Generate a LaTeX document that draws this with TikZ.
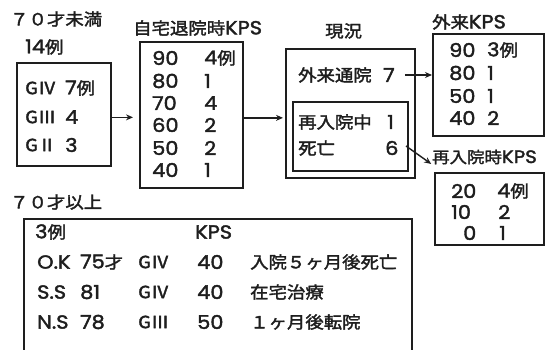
\documentclass[tikz,border=0pt]{standalone}
\usepackage{fontspec}
\setmainfont{Poppins}[FakeStretch=1.1,FakeBold=2]
\newfontfamily\jp{Noto Sans CJK JP}[FakeStretch=1.1,FakeBold=2,Scale=0.88]
\usetikzlibrary{arrows.meta,calc}
\definecolor{ink}{HTML}{1E1E1E}
\tikzset{
  txt/.style={anchor=west, inner sep=0pt, text=ink, font=\fontsize{19}{22}\selectfont},
  box/.style={draw=ink, line width=1.7pt, anchor=north west, inner sep=0pt},
  arr/.style={draw=ink, line width=1.4pt, -{Stealth[length=7pt,width=6pt]}}
}
\begin{document}
\begin{tikzpicture}[x=1pt,y=-1pt]
\useasboundingbox (0,0) rectangle (546,349);
% boxes
\node[box, minimum width=94pt, minimum height=103pt] (gbox) at (16,62) {};
\node[box, minimum width=103pt, minimum height=146pt] (kbox) at (139,41) {};
\node[box, minimum width=129pt, minimum height=129pt] (nbox) at (285,48) {};
\node[box, minimum width=115pt, minimum height=69pt] (ibox) at (292,101) {};
\node[box, minimum width=111pt, minimum height=102pt] (obox) at (432,33) {};
\node[box, minimum width=109pt, minimum height=72pt] (rbox) at (434,172) {};
\node[box, minimum width=388pt, minimum height=132pt] (bbox) at (23,218) {};
% titles
\node[txt] (t1) at (10,19) {\jp ７０才未満};
\node[txt] (t2) at (25,47) {14{\jp 例}};
\node[txt] (t3) at (133,28) {{\jp 自宅退院時}KPS};
\node[txt] (t4) at (325,31) {\jp 現況};
\node[txt] (t5) at (432,22) {{\jp 外来}KPS};
\node[txt, font=\fontsize{18}{22}\selectfont] (rl) at (432,157) {{\jp 再入院時}KPS};
\node[txt] (t6) at (10,202) {\jp ７０才以上};
% left box
\node[txt] (g1) at (25,88) {\jp GⅣ};
\node[txt] (g1n) at (65,88) {7{\jp 例}};
\node[txt] (g2) at (25,117) {\jp GⅢ};
\node[txt] (g2n) at (65,117) {4};
\node[txt] (g3) at (25,145) {\jp GⅡ};
\node[txt] (g3n) at (65,145) {3};
% KPS box
\node[txt] (k1) at (152,58) {90};  \node[txt] (k1n) at (204,58) {4{\jp 例}};
\node[txt] (k2) at (152,81) {80};  \node[txt] (k2n) at (204,81) {1};
\node[txt] (k3) at (152,103) {70}; \node[txt] (k3n) at (204,103) {4};
\node[txt] (k4) at (152,125) {60}; \node[txt] (k4n) at (204,125) {2};
\node[txt] (k5) at (152,148) {50}; \node[txt] (k5n) at (204,148) {2};
\node[txt] (k6) at (152,170) {40}; \node[txt] (k6n) at (204,170) {1};
% current status
\node[txt] (n1) at (298,75) {\jp 外来通院};
\node[txt] (n1n) at (383,75) {7};
\node[txt] (n2) at (298,122) {\jp 再入院中};
\node[txt] (n2n) at (387,122) {1};
\node[txt] (n3) at (298,148) {\jp 死亡};
\node[txt] (n3n) at (385,148) {6};
% outpatient KPS
\node[txt] (o1) at (449,50) {90}; \node[txt] (o1n) at (487,50) {3{\jp 例}};
\node[txt] (o2) at (449,73) {80}; \node[txt] (o2n) at (487,73) {1};
\node[txt] (o3) at (449,96) {50}; \node[txt] (o3n) at (487,96) {1};
\node[txt] (o4) at (449,118) {40}; \node[txt] (o4n) at (487,118) {2};
% readmission KPS
\node[txt] (r1) at (451,191) {20}; \node[txt] (r1n) at (497,191) {4{\jp 例}};
\node[txt] (r2) at (451,212) {10}; \node[txt] (r2n) at (498,212) {2};
\node[txt] (r3) at (463,233) {0};  \node[txt] (r3n) at (499,233) {1};
% bottom table
\node[txt] (b0) at (35,232) {3{\jp 例}};
\node[txt] (b0k) at (195,232) {KPS};
\node[txt] (a1) at (37,262) {O.K}; \node[txt] (a2) at (80,262) {75{\jp 才}}; \node[txt] (a3) at (138,262) {\jp GⅣ}; \node[txt] (a4) at (197,262) {40}; \node[txt] (a5) at (250,262) {\jp 入院５ヶ月後死亡};
\node[txt] (c1) at (37,292) {S.S}; \node[txt] (c2) at (80,292) {81}; \node[txt] (c3) at (138,292) {\jp GⅣ}; \node[txt] (c4) at (197,292) {40}; \node[txt] (c5) at (250,292) {\jp 在宅治療};
\node[txt] (d1) at (37,322) {N.S}; \node[txt] (d2) at (80,322) {78}; \node[txt] (d3) at (138,322) {\jp GⅢ}; \node[txt] (d4) at (197,322) {50}; \node[txt] (d5) at (250,322) {\jp １ヶ月後転院};
% connectors
\draw[arr, shorten >=6pt] ([yshift=-3pt]gbox.east) -- ([yshift=-3pt]gbox.east -| kbox.west);
\draw[arr, shorten >=2pt] ([yshift=-3pt]kbox.east) -- ([yshift=-3pt]kbox.east -| nbox.west);
\draw[arr, shorten <=10pt] (n1n.east) -- (n1n.east -| obox.west);
\draw[arr, shorten <=9pt, shorten >=1pt] (n3n.north east) -- (rl.south west);
\end{tikzpicture}
\end{document}
